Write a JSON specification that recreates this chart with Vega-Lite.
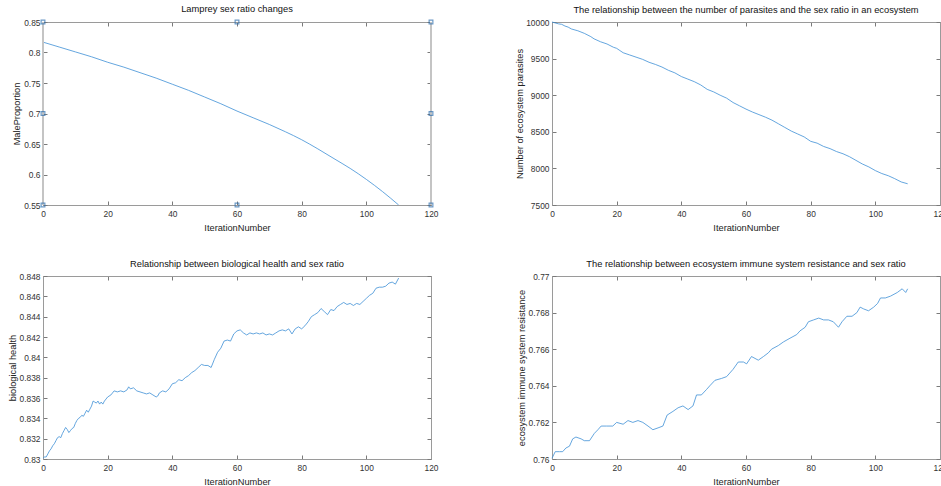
{
  "$schema": "https://vega.github.io/schema/vega-lite/v6.json",
  "padding": {"left": 7, "top": 4, "right": 0, "bottom": 0},
  "background": "white",
  "columns": 2,
  "spacing": {"row": 71, "column": 121},
  "bounds": "flush",
  "datasets": {
    "sex": [
      {"i": 0, "v": 0.817}, {"i": 5, "v": 0.809}, {"i": 10, "v": 0.801}, {"i": 15, "v": 0.793},
      {"i": 20, "v": 0.784}, {"i": 25, "v": 0.776}, {"i": 30, "v": 0.767}, {"i": 35, "v": 0.758},
      {"i": 40, "v": 0.748}, {"i": 45, "v": 0.738}, {"i": 50, "v": 0.727}, {"i": 55, "v": 0.716},
      {"i": 60, "v": 0.704}, {"i": 65, "v": 0.693}, {"i": 70, "v": 0.682}, {"i": 75, "v": 0.670},
      {"i": 80, "v": 0.657}, {"i": 85, "v": 0.642}, {"i": 90, "v": 0.626}, {"i": 95, "v": 0.610},
      {"i": 100, "v": 0.592}, {"i": 105, "v": 0.572}, {"i": 110, "v": 0.550}
    ],
    "box": [
      {"i": 0, "v": 0.55}, {"i": 0, "v": 0.7}, {"i": 0, "v": 0.85}, {"i": 60, "v": 0.85},
      {"i": 60, "v": 0.55}, {"i": 120, "v": 0.85}, {"i": 120, "v": 0.7}, {"i": 120, "v": 0.55}
    ],
    "edges": [{"i": 0}, {"i": 120}],
    "parasites": [
      {"i": 0, "v": 10000}, {"i": 2, "v": 9975}, {"i": 3, "v": 9968}, {"i": 4, "v": 9945}, {"i": 5, "v": 9930},
      {"i": 6, "v": 9905}, {"i": 8, "v": 9880}, {"i": 10, "v": 9845}, {"i": 12, "v": 9800}, {"i": 13, "v": 9770},
      {"i": 15, "v": 9730}, {"i": 17, "v": 9700}, {"i": 19, "v": 9655}, {"i": 20, "v": 9640}, {"i": 21, "v": 9610},
      {"i": 22, "v": 9580}, {"i": 24, "v": 9550}, {"i": 26, "v": 9520}, {"i": 28, "v": 9490}, {"i": 30, "v": 9450},
      {"i": 32, "v": 9420}, {"i": 34, "v": 9385}, {"i": 36, "v": 9340}, {"i": 38, "v": 9305}, {"i": 40, "v": 9255},
      {"i": 42, "v": 9220}, {"i": 44, "v": 9185}, {"i": 46, "v": 9140}, {"i": 48, "v": 9080}, {"i": 50, "v": 9045},
      {"i": 52, "v": 9000}, {"i": 54, "v": 8960}, {"i": 56, "v": 8900}, {"i": 58, "v": 8855}, {"i": 60, "v": 8810},
      {"i": 62, "v": 8770}, {"i": 64, "v": 8735}, {"i": 66, "v": 8700}, {"i": 68, "v": 8660}, {"i": 70, "v": 8610},
      {"i": 72, "v": 8560}, {"i": 74, "v": 8510}, {"i": 76, "v": 8470}, {"i": 78, "v": 8430}, {"i": 80, "v": 8370},
      {"i": 82, "v": 8345}, {"i": 84, "v": 8300}, {"i": 86, "v": 8270}, {"i": 88, "v": 8230}, {"i": 90, "v": 8200},
      {"i": 92, "v": 8160}, {"i": 94, "v": 8110}, {"i": 96, "v": 8060}, {"i": 98, "v": 8020}, {"i": 100, "v": 7970},
      {"i": 102, "v": 7930}, {"i": 104, "v": 7900}, {"i": 106, "v": 7860}, {"i": 108, "v": 7815}, {"i": 110, "v": 7790}
    ],
    "health": [
      {"i": 0, "v": 0.8301}, {"i": 0.5, "v": 0.8302}, {"i": 1, "v": 0.8302}, {"i": 1.5, "v": 0.8305}, {"i": 2, "v": 0.8308},
      {"i": 2.5, "v": 0.831}, {"i": 3, "v": 0.8313}, {"i": 3.5, "v": 0.8315}, {"i": 4, "v": 0.8318}, {"i": 4.5, "v": 0.8321},
      {"i": 5, "v": 0.8322}, {"i": 5.5, "v": 0.8321}, {"i": 6, "v": 0.8325}, {"i": 6.5, "v": 0.8328}, {"i": 7, "v": 0.8331},
      {"i": 7.5, "v": 0.8329}, {"i": 8, "v": 0.8326}, {"i": 8.5, "v": 0.8328}, {"i": 9, "v": 0.833}, {"i": 9.5, "v": 0.8331},
      {"i": 10, "v": 0.8335}, {"i": 10.5, "v": 0.8338}, {"i": 11, "v": 0.834}, {"i": 11.5, "v": 0.8341}, {"i": 12, "v": 0.8343},
      {"i": 12.5, "v": 0.8342}, {"i": 13, "v": 0.8345}, {"i": 13.5, "v": 0.8348}, {"i": 14, "v": 0.8346}, {"i": 14.5, "v": 0.8349},
      {"i": 15, "v": 0.8352}, {"i": 15.5, "v": 0.8357}, {"i": 16, "v": 0.8356}, {"i": 16.5, "v": 0.8355}, {"i": 17, "v": 0.8357},
      {"i": 17.5, "v": 0.8354}, {"i": 18, "v": 0.8356}, {"i": 18.5, "v": 0.8354}, {"i": 19, "v": 0.8357}, {"i": 19.5, "v": 0.8359},
      {"i": 20, "v": 0.8361}, {"i": 21, "v": 0.8363}, {"i": 22, "v": 0.8367}, {"i": 23, "v": 0.8366}, {"i": 24, "v": 0.8367},
      {"i": 25, "v": 0.8366}, {"i": 26, "v": 0.8368}, {"i": 26.5, "v": 0.8371}, {"i": 27, "v": 0.8369}, {"i": 28, "v": 0.837},
      {"i": 29, "v": 0.8367}, {"i": 30, "v": 0.8366}, {"i": 31, "v": 0.8365}, {"i": 32, "v": 0.8364}, {"i": 33, "v": 0.8365},
      {"i": 34, "v": 0.8363}, {"i": 35, "v": 0.8361}, {"i": 35.5, "v": 0.8362}, {"i": 36, "v": 0.8365}, {"i": 37, "v": 0.8367},
      {"i": 38, "v": 0.8366}, {"i": 39, "v": 0.8369}, {"i": 40, "v": 0.8374}, {"i": 41, "v": 0.8375}, {"i": 42, "v": 0.8378},
      {"i": 43, "v": 0.8377}, {"i": 44, "v": 0.838}, {"i": 45, "v": 0.8382}, {"i": 46, "v": 0.8385}, {"i": 47, "v": 0.8387},
      {"i": 48, "v": 0.839}, {"i": 49, "v": 0.8393}, {"i": 50, "v": 0.8392}, {"i": 51, "v": 0.8392}, {"i": 52, "v": 0.839},
      {"i": 53, "v": 0.8398}, {"i": 54, "v": 0.8405}, {"i": 55, "v": 0.8409}, {"i": 56, "v": 0.8416}, {"i": 57, "v": 0.8417},
      {"i": 58, "v": 0.8416}, {"i": 59, "v": 0.8423}, {"i": 60, "v": 0.8426}, {"i": 61, "v": 0.8427}, {"i": 62, "v": 0.8424},
      {"i": 63, "v": 0.8422}, {"i": 64, "v": 0.8424}, {"i": 65, "v": 0.8423}, {"i": 66, "v": 0.8424}, {"i": 67, "v": 0.8423},
      {"i": 68, "v": 0.8424}, {"i": 69, "v": 0.8422}, {"i": 70, "v": 0.8423}, {"i": 71, "v": 0.8422}, {"i": 72, "v": 0.8424},
      {"i": 73, "v": 0.8426}, {"i": 74, "v": 0.8427}, {"i": 75, "v": 0.8426}, {"i": 76, "v": 0.8428}, {"i": 77, "v": 0.8423},
      {"i": 78, "v": 0.8428}, {"i": 79, "v": 0.843}, {"i": 80, "v": 0.8428}, {"i": 81, "v": 0.8431}, {"i": 82, "v": 0.8435},
      {"i": 83, "v": 0.844}, {"i": 84, "v": 0.8442}, {"i": 85, "v": 0.8444}, {"i": 86, "v": 0.8448}, {"i": 87, "v": 0.8445},
      {"i": 88, "v": 0.8442}, {"i": 89, "v": 0.8447}, {"i": 90, "v": 0.8446}, {"i": 91, "v": 0.845}, {"i": 92, "v": 0.8452},
      {"i": 93, "v": 0.8454}, {"i": 94, "v": 0.8452}, {"i": 95, "v": 0.8453}, {"i": 96, "v": 0.8451}, {"i": 97, "v": 0.8453},
      {"i": 98, "v": 0.8452}, {"i": 99, "v": 0.8455}, {"i": 100, "v": 0.8458}, {"i": 101, "v": 0.8461}, {"i": 102, "v": 0.8463},
      {"i": 103, "v": 0.8468}, {"i": 104, "v": 0.8469}, {"i": 105, "v": 0.8469}, {"i": 106, "v": 0.847}, {"i": 107, "v": 0.8473},
      {"i": 108, "v": 0.8474}, {"i": 109, "v": 0.8472}, {"i": 110, "v": 0.8478}
    ],
    "immune": [
      {"i": 0, "v": 0.76004}, {"i": 1, "v": 0.7604}, {"i": 2.3, "v": 0.7604}, {"i": 3.3, "v": 0.7604}, {"i": 4.3, "v": 0.7606},
      {"i": 5.4, "v": 0.7607}, {"i": 6.4, "v": 0.7611}, {"i": 7.4, "v": 0.7612}, {"i": 9, "v": 0.7611}, {"i": 10, "v": 0.761},
      {"i": 11.6, "v": 0.761}, {"i": 13.1, "v": 0.7614}, {"i": 14.2, "v": 0.7616}, {"i": 15.2, "v": 0.7618}, {"i": 16.8, "v": 0.7618},
      {"i": 18.8, "v": 0.7618}, {"i": 20, "v": 0.762}, {"i": 22, "v": 0.7619}, {"i": 23.5, "v": 0.7621}, {"i": 25, "v": 0.762},
      {"i": 26.6, "v": 0.7621}, {"i": 28.1, "v": 0.762}, {"i": 29.7, "v": 0.7618}, {"i": 31.2, "v": 0.7616}, {"i": 32.8, "v": 0.7617},
      {"i": 34.3, "v": 0.7618}, {"i": 35.6, "v": 0.7624}, {"i": 37.4, "v": 0.7626}, {"i": 39, "v": 0.7628}, {"i": 40.5, "v": 0.7629},
      {"i": 42.1, "v": 0.7627}, {"i": 43.6, "v": 0.7629}, {"i": 44.7, "v": 0.7635}, {"i": 46.2, "v": 0.7635}, {"i": 47.8, "v": 0.7638},
      {"i": 48.8, "v": 0.764}, {"i": 50.4, "v": 0.7643}, {"i": 52.4, "v": 0.7644}, {"i": 54, "v": 0.7645}, {"i": 56, "v": 0.7649},
      {"i": 57.6, "v": 0.7653}, {"i": 59.2, "v": 0.7653}, {"i": 60.2, "v": 0.7652}, {"i": 61.7, "v": 0.7656}, {"i": 63.8, "v": 0.7654},
      {"i": 65.4, "v": 0.7656}, {"i": 66.9, "v": 0.7658}, {"i": 67.9, "v": 0.766}, {"i": 70, "v": 0.7662}, {"i": 71.6, "v": 0.7664},
      {"i": 73.6, "v": 0.7666}, {"i": 75.7, "v": 0.7668}, {"i": 76.7, "v": 0.767}, {"i": 78.3, "v": 0.7672}, {"i": 79.3, "v": 0.7675},
      {"i": 80.9, "v": 0.7676}, {"i": 82.5, "v": 0.7677}, {"i": 84, "v": 0.7676}, {"i": 85.5, "v": 0.7676}, {"i": 87, "v": 0.7675},
      {"i": 88.6, "v": 0.7672}, {"i": 89.7, "v": 0.7675}, {"i": 91.2, "v": 0.7678}, {"i": 92.8, "v": 0.7678}, {"i": 94.3, "v": 0.768},
      {"i": 95.3, "v": 0.7683}, {"i": 96.4, "v": 0.7682}, {"i": 97.9, "v": 0.7681}, {"i": 99.5, "v": 0.7683}, {"i": 100.7, "v": 0.7685},
      {"i": 101.6, "v": 0.7688}, {"i": 103.1, "v": 0.7688}, {"i": 104.7, "v": 0.7689}, {"i": 106.8, "v": 0.7691}, {"i": 108.3, "v": 0.7693},
      {"i": 109.4, "v": 0.7691}, {"i": 110, "v": 0.7693}
    ]
  },
  "concat": [
    {
      "width": 388, "height": 183,
      "title": {"text": "Lamprey sex ratio changes"},
      "layer": [
        {
          "data": {"name": "sex"},
          "mark": {"type": "line", "color": "#3d8fd6", "strokeWidth": 0.8, "interpolate": "monotone", "clip": true},
          "encoding": {
            "x": {"field": "i", "type": "quantitative", "scale": {"domain": [0, 120], "nice": false},
                  "axis": {"orient": "bottom", "values": [0, 20, 40, 60, 80, 100, 120], "format": "d", "title": "IterationNumber"}},
            "y": {"field": "v", "type": "quantitative", "scale": {"domain": [0.55, 0.85], "nice": false, "zero": false},
                  "axis": {"orient": "left", "values": [0.55, 0.6, 0.65, 0.7, 0.75, 0.8, 0.85], "format": "~g", "title": "MaleProportion", "titleX": -27}}
          }
        },
        {
          "data": {"name": "sex"},
          "mark": {"type": "line", "opacity": 0},
          "encoding": {
            "x": {"field": "i", "type": "quantitative", "axis": {"orient": "top", "values": [0, 20, 40, 60, 80, 100, 120], "labels": false, "title": null}},
            "y": {"field": "v", "type": "quantitative", "axis": {"orient": "right", "values": [0.55, 0.6, 0.65, 0.7, 0.75, 0.8, 0.85], "labels": false, "title": null}}
          }
        },
        {
          "data": {"name": "edges"},
          "mark": {"type": "rule", "color": "#c4c4c4", "strokeWidth": 2},
          "encoding": {"x": {"field": "i", "type": "quantitative", "axis": null}}
        },
        {
          "data": {"name": "box"},
          "mark": {"type": "point", "shape": "square", "filled": false, "color": "#2f6fae", "size": 14, "strokeWidth": 1.2, "clip": false},
          "encoding": {
            "x": {"field": "i", "type": "quantitative", "axis": null},
            "y": {"field": "v", "type": "quantitative", "axis": null}
          }
        }
      ],
      "resolve": {"axis": {"x": "independent", "y": "independent"}}
    },
    {
      "width": 388, "height": 183,
      "title": {"text": "The relationship between the number of parasites and the sex ratio in an ecosystem"},
      "data": {"name": "parasites"},
      "layer": [
        {
          "mark": {"type": "line", "color": "#3d8fd6", "strokeWidth": 0.8},
          "encoding": {
            "x": {"field": "i", "type": "quantitative", "scale": {"domain": [0, 120], "nice": false},
                  "axis": {"orient": "bottom", "values": [0, 20, 40, 60, 80, 100, 120], "format": "d", "title": "IterationNumber"}},
            "y": {"field": "v", "type": "quantitative", "scale": {"domain": [7500, 10000], "nice": false, "zero": false},
                  "axis": {"orient": "left", "values": [7500, 8000, 8500, 9000, 9500, 10000], "format": "d", "title": "Number of ecosystem parasites", "titleX": -33}}
          }
        },
        {
          "mark": {"type": "line", "opacity": 0},
          "encoding": {
            "x": {"field": "i", "type": "quantitative", "axis": {"orient": "top", "values": [0, 20, 40, 60, 80, 100, 120], "labels": false, "title": null}},
            "y": {"field": "v", "type": "quantitative", "axis": {"orient": "right", "values": [7500, 8000, 8500, 9000, 9500, 10000], "labels": false, "title": null}}
          }
        }
      ],
      "resolve": {"axis": {"x": "independent", "y": "independent"}}
    },
    {
      "width": 388, "height": 183,
      "title": {"text": "Relationship between biological health and sex ratio"},
      "data": {"name": "health"},
      "layer": [
        {
          "mark": {"type": "line", "color": "#3d8fd6", "strokeWidth": 0.8},
          "encoding": {
            "x": {"field": "i", "type": "quantitative", "scale": {"domain": [0, 120], "nice": false},
                  "axis": {"orient": "bottom", "values": [0, 20, 40, 60, 80, 100, 120], "format": "d", "title": "IterationNumber"}},
            "y": {"field": "v", "type": "quantitative", "scale": {"domain": [0.83, 0.848], "nice": false, "zero": false},
                  "axis": {"orient": "left", "values": [0.83, 0.832, 0.834, 0.836, 0.838, 0.84, 0.842, 0.844, 0.846, 0.848], "format": "~g", "title": "biological health", "titleX": -31}}
          }
        },
        {
          "mark": {"type": "line", "opacity": 0},
          "encoding": {
            "x": {"field": "i", "type": "quantitative", "axis": {"orient": "top", "values": [0, 20, 40, 60, 80, 100, 120], "labels": false, "title": null}},
            "y": {"field": "v", "type": "quantitative", "axis": {"orient": "right", "values": [0.83, 0.832, 0.834, 0.836, 0.838, 0.84, 0.842, 0.844, 0.846, 0.848], "labels": false, "title": null}}
          }
        }
      ],
      "resolve": {"axis": {"x": "independent", "y": "independent"}}
    },
    {
      "width": 388, "height": 183,
      "title": {"text": "The relationship between ecosystem immune system resistance and sex ratio"},
      "data": {"name": "immune"},
      "layer": [
        {
          "mark": {"type": "line", "color": "#3d8fd6", "strokeWidth": 0.8},
          "encoding": {
            "x": {"field": "i", "type": "quantitative", "scale": {"domain": [0, 120], "nice": false},
                  "axis": {"orient": "bottom", "values": [0, 20, 40, 60, 80, 100, 120], "format": "d", "title": "IterationNumber"}},
            "y": {"field": "v", "type": "quantitative", "scale": {"domain": [0.76, 0.77], "nice": false, "zero": false},
                  "axis": {"orient": "left", "values": [0.76, 0.762, 0.764, 0.766, 0.768, 0.77], "format": "~g", "title": "ecosystem immune system resistance", "titleX": -31}}
          }
        },
        {
          "mark": {"type": "line", "opacity": 0},
          "encoding": {
            "x": {"field": "i", "type": "quantitative", "axis": {"orient": "top", "values": [0, 20, 40, 60, 80, 100, 120], "labels": false, "title": null}},
            "y": {"field": "v", "type": "quantitative", "axis": {"orient": "right", "values": [0.76, 0.762, 0.764, 0.766, 0.768, 0.77], "labels": false, "title": null}}
          }
        }
      ],
      "resolve": {"axis": {"x": "independent", "y": "independent"}}
    }
  ],
  "config": {
    "font": "Liberation Sans",
    "view": {"stroke": "#9a9a9a", "strokeWidth": 1},
    "title": {"fontSize": 9.3, "fontWeight": "normal", "color": "#111", "offset": 3, "anchor": "middle", "font": "Liberation Sans"},
    "axis": {
      "grid": false,
      "domainColor": "#9a9a9a",
      "tickColor": "#7a7a7a",
      "tickSize": -4,
      "labelColor": "#333",
      "labelFontSize": 8.4,
      "titleFontSize": 9.25,
      "titleFontWeight": "normal",
      "titleColor": "#222",
      "labelFlush": false,
      "labelOverlap": false
    },
    "axisX": {"labelPadding": 8, "titleY": 22, "titleBaseline": "middle"},
    "axisY": {"labelPadding": 7, "titleBaseline": "middle"}
  }
}
